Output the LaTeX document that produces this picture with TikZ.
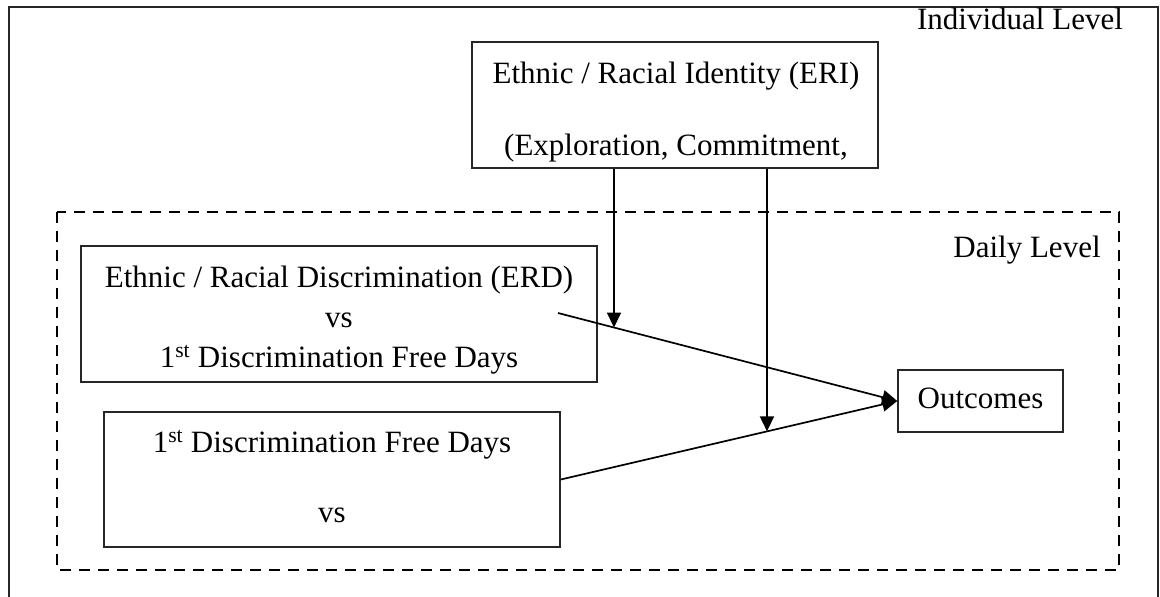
\documentclass[tikz,border=0pt]{standalone}
\usepackage{fontspec}
\setmainfont{Liberation Serif}
\usetikzlibrary{arrows.meta}
\begin{document}
\begin{tikzpicture}[x=1pt,y=-1pt,
  lbl/.style={font=\fontsize{31}{37}\selectfont, inner sep=0pt, anchor=base},
  boxnode/.style={draw=black!85, line width=1.5pt, inner sep=0pt},
  conn/.style={line width=1.7pt, -{Triangle[length=15pt,width=14pt]}}]
\useasboundingbox (0,0) rectangle (1160,597);
% outer frame
\draw[line width=2.2pt, black!85] (9,620) -- (9,7) -- (1158,7) -- (1158,620);
% daily level dashed frame
\draw[line width=2.5pt, dash pattern=on 11pt off 8pt] (57,212) rectangle (1119,570);
% boxes
\node[boxnode, minimum width=406pt, minimum height=126pt] (eri) at (675,105) {};
\node[boxnode, minimum width=516pt, minimum height=136pt] (erd) at (339,314) {};
\node[boxnode, minimum width=456pt, minimum height=135pt] (fd) at (332,479.5) {};
\node[boxnode, minimum width=165pt, minimum height=62pt] (out) at (980.5,401) {};
% texts
\node[lbl] (t1) at (1020,29) {Individual Level};
\node[lbl] (t2) at (1027,257) {Daily Level};
\node[lbl] (t3) at (676,83) {Ethnic / Racial Identity (ERI)};
\node[lbl] (t4) at (676,155) {(Exploration, Commitment,};
\node[lbl] (t5) at (339,287) {Ethnic / Racial Discrimination (ERD)};
\node[lbl] (t6) at (339,327) {vs};
\node[lbl] (t7) at (339,367) {1\textsuperscript{st} Discrimination Free Days};
\node[lbl] (t8) at (332,452) {1\textsuperscript{st} Discrimination Free Days};
\node[lbl] (t9) at (332,522) {vs};
\node[lbl] (t10) at (980.5,408) {Outcomes};
% connectors
\coordinate (s1) at (558,313);
\draw[conn] (s1) -- (out.west);
\draw[conn] (fd.east) -- (out.west);
\coordinate (m1) at (intersection of s1--out.west and 614,0--614,600);
\coordinate (m2) at (intersection of fd.east--out.west and 767,0--767,600);
\draw[conn] (eri.south -| m1) -- (m1);
\draw[conn] (eri.south -| m2) -- (m2);
\end{tikzpicture}
\end{document}
